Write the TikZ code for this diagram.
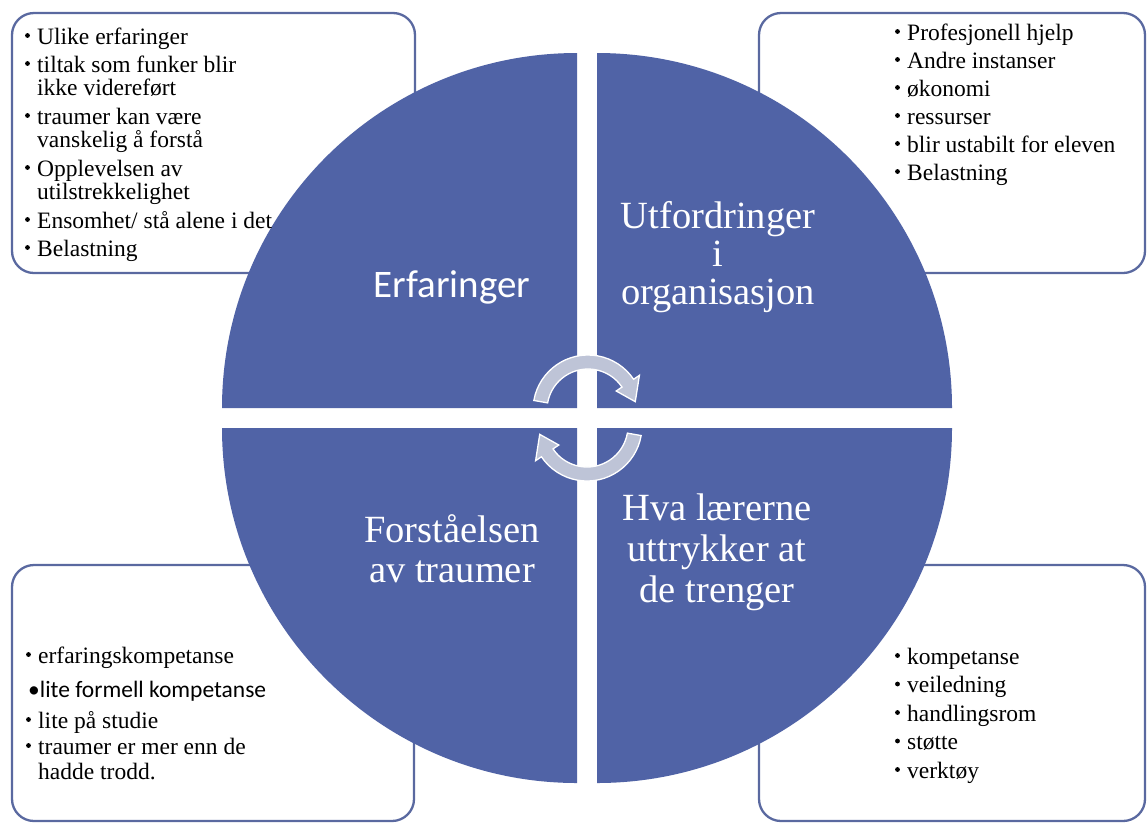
\documentclass[tikz,border=0pt]{standalone}
\usepackage{fontspec}
\setmainfont{Liberation Serif}
\newfontfamily\labelsans{Carlito}
\usetikzlibrary{calc}

\definecolor{quadblue}{RGB}{80,99,166}
\definecolor{boxline}{RGB}{90,105,160}
\definecolor{arrowfill}{RGB}{190,196,215}

% bullet item: name, x, baseline y, text
\newcommand\bul[4]{%
  \node[bulletdot] (#1b) at (#2-9.5,#3-8.5) {};
  \node[itemtext] (#1) at (#2,#3) {#4};}

\begin{document}
\begin{tikzpicture}[x=1pt,y=-1pt,
  listbox/.style={draw=boxline, line width=2.3pt, fill=white, rounded corners=22pt,
    rectangle, inner sep=0pt},
  quadrant/.style={fill=quadblue},
  biglabel/.style={text=white, anchor=base, inner sep=0pt,
    font=\fontsize{38.5}{38.5}\selectfont},
  itemtext/.style={anchor=base west, inner sep=0pt,
    font=\fontsize{23.5}{23.5}\selectfont},
  bulletdot/.style={circle, fill=black, inner sep=0pt, minimum size=4.8pt},
  cyclearrow/.style={fill=arrowfill, draw=white, line width=1.3pt, line join=miter},
]
\useasboundingbox (0,0) rectangle (1147,823);
\fill[white] (0,0) rectangle (1147,823);

% ---- the four list boxes (behind the circle)
\node[listbox, minimum width=403pt, minimum height=260pt] (boxTL) at (213.5,143) {};
\node[listbox, minimum width=386pt, minimum height=260pt] (boxTR) at (952,143) {};
\node[listbox, minimum width=402pt, minimum height=256pt] (boxBL) at (213,693) {};
\node[listbox, minimum width=386pt, minimum height=256pt] (boxBR) at (952,693) {};

% ---- the circle, split into four quadrants
\fill[quadrant] (577,408) -- (222,408) arc[start angle=180, end angle=270, radius=355] -- cycle;
\fill[quadrant] (597,408) -- (597,53) arc[start angle=270, end angle=360, radius=355] -- cycle;
\fill[quadrant] (597,428) -- (952,428) arc[start angle=0, end angle=90, radius=355] -- cycle;
\fill[quadrant] (577,428) -- (577,783) arc[start angle=90, end angle=180, radius=355] -- cycle;

% ---- quadrant titles
\node[biglabel, font=\labelsans\fontsize{39}{39}\selectfont] (erf) at (452,297) {Erfaringer};
\node[biglabel] (utf1) at (718,228) {Utfordringer};
\node[biglabel] (utf2) at (718,266) {i};
\node[biglabel] (utf3) at (718,304) {organisasjon};
\node[biglabel] (forst1) at (452,542) {Forståelsen};
\node[biglabel] (forst2) at (452,582) {av traumer};
\node[biglabel] (hva1) at (717,520) {Hva lærerne};
\node[biglabel] (hva2) at (717,561) {uttrykker at};
\node[biglabel] (hva3) at (717,602) {de trenger};

% ---- circular arrows in the middle
\begin{scope}[shift={(588,410)}]
  \path[cyclearrow] (190:55) arc[start angle=190, end angle=326, radius=55]
    -- (326:62) -- (350:48) -- (326:34) -- (326:41)
    arc[start angle=326, end angle=190, radius=41] -- cycle;
\end{scope}
\begin{scope}[shift={(587,426)}, rotate=180]
  \path[cyclearrow] (190:55) arc[start angle=190, end angle=326, radius=55]
    -- (326:62) -- (350:48) -- (326:34) -- (326:41)
    arc[start angle=326, end angle=190, radius=41] -- cycle;
\end{scope}

% ---- top-left list
\bul{tl1}{37}{44}{Ulike erfaringer}
\bul{tl2}{37}{72}{tiltak som funker blir}
\node[itemtext] (tl2b2) at (37,95) {ikke videreført};
\bul{tl3}{37}{124}{traumer kan være}
\node[itemtext] (tl3b2) at (37,147) {vanskelig å forstå};
\bul{tl4}{37}{176}{Opplevelsen av}
\node[itemtext] (tl4b2) at (37,199) {utilstrekkelighet};
\bul{tl5}{37}{228}{Ensomhet/ stå alene i det}
\bul{tl6}{37}{256}{Belastning}

% ---- top-right list
\bul{tr1}{907}{40}{Profesjonell hjelp}
\bul{tr2}{907}{68}{Andre instanser}
\bul{tr3}{907}{96}{økonomi}
\bul{tr4}{907}{124}{ressurser}
\bul{tr5}{907}{152}{blir ustabilt for eleven}
\bul{tr6}{907}{180}{Belastning}

% ---- bottom-left list
\bul{bl1}{38}{663}{erfaringskompetanse}
\node[itemtext, font=\labelsans\fontsize{23.5}{23.5}\selectfont] (bl2) at (28,697) {•lite formell kompetanse};
\bul{bl3}{38}{728}{lite på studie}
\bul{bl4}{38}{754}{traumer er mer enn de}
\node[itemtext] (bl4b2) at (38,779) {hadde trodd.};

% ---- bottom-right list
\bul{br1}{907}{664}{kompetanse}
\bul{br2}{907}{692.5}{veiledning}
\bul{br3}{907}{721}{handlingsrom}
\bul{br4}{907}{749.5}{støtte}
\bul{br5}{907}{778}{verktøy}
\end{tikzpicture}
\end{document}
